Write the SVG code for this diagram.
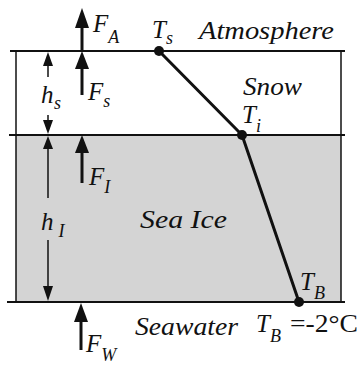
<svg xmlns="http://www.w3.org/2000/svg" width="362" height="366" viewBox="0 0 362 366">
<style>
text{font-family:"Liberation Serif","DejaVu Serif","Times New Roman",Times,serif;fill:#111}
.t{font-style:italic;font-size:25px}
.sub{font-style:italic;font-size:18px}
.up{font-size:25px;font-style:normal}
.bl{stroke:#111;fill:none}
.hd{fill:#111;stroke:none}
</style>
<rect width="362" height="366" fill="#fff"/>
<g id="layers">
<rect x="16" y="135" width="325" height="167" fill="#d4d4d4"/>
<line class="bl" x1="10" y1="51" x2="345" y2="51" stroke-width="2"/>
<line class="bl" x1="9" y1="135" x2="345" y2="135" stroke-width="2"/>
<line class="bl" x1="7" y1="302" x2="345" y2="302" stroke-width="2"/>
<line class="bl" x1="16" y1="51" x2="16" y2="302" stroke-width="1.5"/>
<line class="bl" x1="341" y1="51" x2="341" y2="302" stroke-width="1.5"/>
</g>
<g id="labels">
<text class="t" x="199" y="39" textLength="135" lengthAdjust="spacingAndGlyphs">Atmosphere</text>
<text class="t" x="243" y="95" textLength="59" lengthAdjust="spacingAndGlyphs">Snow</text>
<text class="t" x="140" y="228" textLength="87" lengthAdjust="spacingAndGlyphs">Sea Ice</text>
<text class="t" x="135" y="335" textLength="103" lengthAdjust="spacingAndGlyphs">Seawater</text>
</g>
<g id="profile">
<polyline class="bl" points="159,51 242,135 299,302" stroke-width="3" stroke-linejoin="round"/>
<circle cx="159" cy="51" r="5" class="hd"/>
<circle cx="242" cy="135" r="5" class="hd"/>
<circle cx="299" cy="302" r="5" class="hd"/>
<g id="Ts"><text class="t" x="152" y="38">T<tspan class="sub" dy="6">s</tspan></text></g>
<g id="Ti"><text class="t" x="242" y="123">T<tspan class="sub" dy="9">i</tspan></text></g>
<g id="TB"><text class="t" x="300" y="290">T<tspan class="sub" dy="9">B</tspan></text></g>
<g id="TBval"><text class="t" x="256" y="332">T<tspan class="sub" dy="10">B</tspan></text><text class="up" x="290" y="332" textLength="68" lengthAdjust="spacingAndGlyphs">=-2°C</text></g>
</g>
<g id="fluxes">
<g id="FA"><line class="bl" x1="82" y1="51" x2="82" y2="24" stroke-width="3"/><polygon class="hd" points="82,8 75,28 89,28"/><text class="t" x="93" y="32">F<tspan class="sub" dy="11">A</tspan></text></g>
<g id="Fs"><line class="bl" x1="82" y1="95" x2="82" y2="64" stroke-width="3"/><polygon class="hd" points="82,51 75,69 89,69"/><text class="t" x="88" y="100">F<tspan class="sub" dy="7">s</tspan></text></g>
<g id="FI"><line class="bl" x1="82" y1="183" x2="82" y2="148" stroke-width="3"/><polygon class="hd" points="82,135 75,153 89,153"/><text class="t" x="89" y="185">F<tspan class="sub" dy="8">I</tspan></text></g>
<g id="FW"><line class="bl" x1="81" y1="350" x2="81" y2="318" stroke-width="3"/><polygon class="hd" points="81,303 74,322 88,322"/><text class="t" x="86" y="352">F<tspan class="sub" dy="9">W</tspan></text></g>
</g>
<g id="dimensions">
<g id="hs"><line class="bl" x1="48" y1="77" x2="48" y2="62" stroke-width="1.5"/><polygon class="hd" points="48,52 43,66 53,66"/><line class="bl" x1="48" y1="115" x2="48" y2="124" stroke-width="1.5"/><polygon class="hd" points="48,134 43,120 53,120"/><text class="t" x="41" y="103">h<tspan class="sub" dx="0.5" dy="6">s</tspan></text></g>
<g id="hI"><polygon class="hd" points="48,136 43,149 53,149"/><line class="bl" x1="48" y1="146" x2="48" y2="198" stroke-width="1.5"/><line class="bl" x1="48" y1="240" x2="48" y2="290" stroke-width="1.5"/><polygon class="hd" points="48,301 43,286 53,286"/><text class="t" x="41" y="230">h<tspan class="sub" dx="5" dy="7">I</tspan></text></g>
</g>
</svg>
